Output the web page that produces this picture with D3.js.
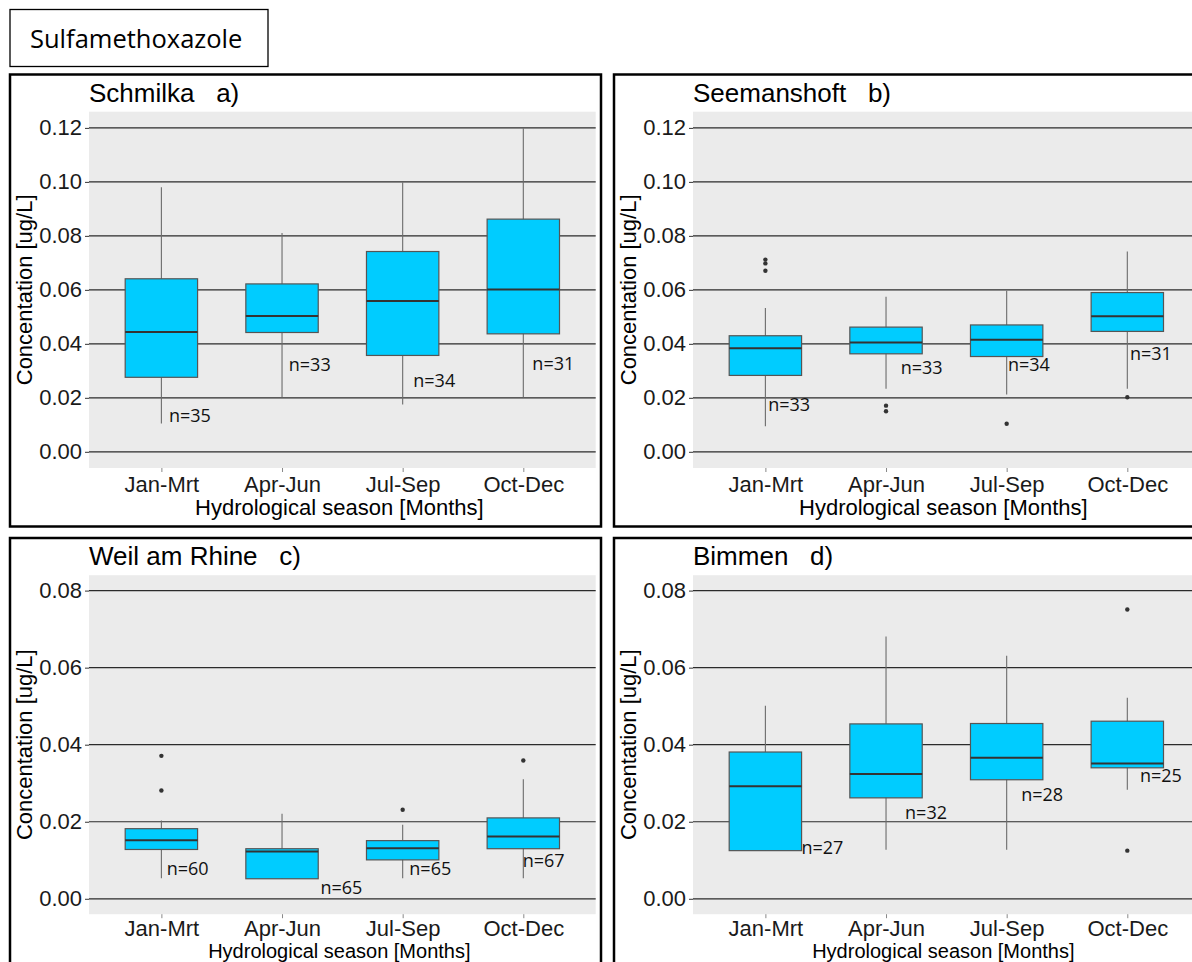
<!DOCTYPE html>
<html lang="en">
<head>
<meta charset="UTF-8">
<title>Sulfamethoxazole</title>
<script src="https://d3js.org/d3.v7.min.js"></script>
<style>
  body { margin: 0; background: #ffffff; }
  svg { display: block; }
  .axis text { font-family: "Liberation Sans", Arial, sans-serif; font-size: 22px; fill: #1a1a1a; }
  .ptitle { font-family: "Liberation Sans", Arial, sans-serif; font-size: 26px; fill: #000; white-space: pre; }
  .atitle { font-family: "Liberation Sans", Arial, sans-serif; font-size: 22px; fill: #000; }
  .nlab { font-family: "Open Sans", sans-serif; font-size: 18px; fill: #111; }
</style>
</head>
<body>
<div id="chart"></div>
<script>
// categories and axis ticks
var seasons = ["Jan-Mrt", "Apr-Jun", "Jul-Sep", "Oct-Dec"];
var ticksTop = [0, 0.02, 0.04, 0.06, 0.08, 0.10, 0.12];
var ticksBottom = [0, 0.02, 0.04, 0.06, 0.08];

// a) Schmilka
var schmilkaLow  = [0.0105, 0.0202, 0.0175, 0.0202];
var schmilkaQ1   = [0.0276, 0.0442, 0.0357, 0.0437];
var schmilkaMed  = [0.0444, 0.0503, 0.0559, 0.0601];
var schmilkaQ3   = [0.0641, 0.0622, 0.0742, 0.0862];
var schmilkaHigh = [0.0980, 0.0811, 0.0999, 0.1199];
var schmilkaOut  = [[], [], [], []];
var schmilkaN    = [35, 33, 34, 31];
var schmilkaNY   = [0.0109, 0.0299, 0.0241, 0.0302];
var schmilkaNudge = [0.063, 0.056, 0.088, 0.075];

// b) Seemanshoft
var seemanLow  = [0.0095, 0.0234, 0.0212, 0.0234];
var seemanQ1   = [0.0283, 0.0363, 0.0353, 0.0446];
var seemanMed  = [0.0384, 0.0405, 0.0415, 0.0502];
var seemanQ3   = [0.0430, 0.0462, 0.0470, 0.0590];
var seemanHigh = [0.0533, 0.0574, 0.0597, 0.0742];
var seemanOut  = [[0.0671, 0.0698, 0.0712], [0.0150, 0.0171], [0.0104], [0.0202]];
var seemanN    = [33, 33, 34, 31];
var seemanNY   = [0.0150, 0.0289, 0.0299, 0.0339];
var seemanNudge = [0.023, 0.121, 0.011, 0.022];

// c) Weil am Rhine
var weilLow  = [0.0053, 0.0052, 0.0053, 0.0053];
var weilQ1   = [0.0128, 0.0052, 0.0101, 0.0130];
var weilMed  = [0.0152, 0.0123, 0.0131, 0.0162];
var weilQ3   = [0.0182, 0.0130, 0.0151, 0.0210];
var weilHigh = [0.0203, 0.0221, 0.0192, 0.0310];
var weilOut  = [[0.0281, 0.0371], [], [0.0231], [0.0359]];
var weilN    = [60, 65, 65, 67];
var weilNY   = [0.0063, 0.0013, 0.0063, 0.0082];
var weilNudge = [0.044, 0.319, 0.055, -0.005];

// d) Bimmen
var bimmenLow  = [0.0125, 0.0127, 0.0127, 0.0283];
var bimmenQ1   = [0.0125, 0.0262, 0.0309, 0.0340];
var bimmenMed  = [0.0292, 0.0324, 0.0366, 0.0351];
var bimmenQ3   = [0.0381, 0.0454, 0.0455, 0.0461];
var bimmenHigh = [0.0501, 0.0681, 0.0631, 0.0522];
var bimmenOut  = [[], [], [], [0.0125, 0.0751]];
var bimmenN    = [27, 32, 28, 25];
var bimmenNY   = [0.0115, 0.0206, 0.0253, 0.0303];
var bimmenNudge = [0.299, 0.158, 0.120, 0.105];

var width = 1192, height = 962;
var grayW = 506.7;

var svg = d3.select("#chart").append("svg")
    .attr("width", width)
    .attr("height", height)
    .style("background-color", "white");

// main title box
svg.append("rect")
    .attr("x", 10).attr("y", 9.5).attr("width", 258).attr("height", 57)
    .attr("fill", "none").attr("stroke", "#000").attr("stroke-width", 1.3);
svg.append("text")
    .attr("x", 30).attr("y", 48)
    .style("font-family", "'Open Sans', sans-serif")
    .style("font-size", "25.5px")
    .text("Sulfamethoxazole");

function boxes(low, q1, med, q3, high, out, n, ny, nudge) {
    return seasons.map(function(s, i) {
        return {season: s, low: low[i], q1: q1[i], med: med[i], q3: q3[i], high: high[i],
                out: out[i], n: n[i], ny: ny[i], nudge: nudge[i]};
    });
}

// bottom row is cropped by the page edge, so its x labels sit a bit tighter
var panels = [
    {name: "Schmilka   a)", fx: 10, fy: 74.5, gh: 356.3, top: 0.12, ticks: ticksTop, xt: 47, xfs: 22, tp: 4,
     data: boxes(schmilkaLow, schmilkaQ1, schmilkaMed, schmilkaQ3, schmilkaHigh, schmilkaOut, schmilkaN, schmilkaNY, schmilkaNudge)},
    {name: "Seemanshoft   b)", fx: 614, fy: 74.5, gh: 356.3, top: 0.12, ticks: ticksTop, xt: 47, xfs: 22, tp: 4,
     data: boxes(seemanLow, seemanQ1, seemanMed, seemanQ3, seemanHigh, seemanOut, seemanN, seemanNY, seemanNudge)},
    {name: "Weil am Rhine   c)", fx: 10, fy: 538, gh: 339, top: 0.08, ticks: ticksBottom, xt: 44, xfs: 20, tp: 2,
     data: boxes(weilLow, weilQ1, weilMed, weilQ3, weilHigh, weilOut, weilN, weilNY, weilNudge)},
    {name: "Bimmen   d)", fx: 614, fy: 538, gh: 339, top: 0.08, ticks: ticksBottom, xt: 44, xfs: 20, tp: 2,
     data: boxes(bimmenLow, bimmenQ1, bimmenMed, bimmenQ3, bimmenHigh, bimmenOut, bimmenN, bimmenNY, bimmenNudge)}
];

panels.forEach(function(p) {
    // outer frame
    svg.append("rect")
        .attr("x", p.fx).attr("y", p.fy).attr("width", 591).attr("height", 452)
        .attr("fill", "none").attr("stroke", "#000").attr("stroke-width", 2.5);

    var gx = p.fx + 79, gy = p.fy + 37.2;
    var g = svg.append("g").attr("transform", "translate(" + gx + "," + gy + ")");

    var pad = p.top * 0.05;
    var y = d3.scaleLinear().domain([-pad, p.top + pad]).range([p.gh, 0]);
    var x = d3.scalePoint().domain(seasons).range([0, grayW]).padding(0.6);
    var bw = x.step() * 0.6;

    g.append("rect")
        .attr("width", grayW).attr("height", p.gh)
        .attr("fill", "#ebebeb");

    // gridlines
    g.selectAll(".grid")
        .data(p.ticks)
        .enter()
        .append("line")
            .attr("x1", 0).attr("x2", grayW)
            .attr("y1", function(d) { return y(d); })
            .attr("y2", function(d) { return y(d); })
            .attr("stroke", "#2b2b2b").attr("stroke-width", 1.2);

    // y axis
    var ya = g.append("g").attr("class", "axis")
        .call(d3.axisLeft(y).tickValues(p.ticks).tickFormat(d3.format(".2f")).tickSize(4).tickPadding(3));
    ya.select(".domain").remove();
    ya.selectAll("line").attr("stroke", "#333");

    // x axis
    var xa = g.append("g").attr("class", "axis")
        .attr("transform", "translate(0," + p.gh + ")")
        .call(d3.axisBottom(x).tickSize(4).tickPadding(p.tp));
    xa.select(".domain").remove();
    xa.selectAll("line").attr("stroke", "#888");

    // whiskers
    g.selectAll(".whisker")
        .data(p.data)
        .enter()
        .append("line")
            .attr("x1", function(d) { return x(d.season); })
            .attr("x2", function(d) { return x(d.season); })
            .attr("y1", function(d) { return y(d.low); })
            .attr("y2", function(d) { return y(d.high); })
            .attr("stroke", "#6b6b6b").attr("stroke-width", 1.1);

    // boxes
    g.selectAll(".box")
        .data(p.data)
        .enter()
        .append("rect")
            .attr("x", function(d) { return x(d.season) - bw / 2; })
            .attr("y", function(d) { return y(d.q3); })
            .attr("width", bw)
            .attr("height", function(d) { return y(d.q1) - y(d.q3); })
            .attr("fill", "#00ccff")
            .attr("stroke", "#555").attr("stroke-width", 1.2);

    // medians
    g.selectAll(".median")
        .data(p.data)
        .enter()
        .append("line")
            .attr("x1", function(d) { return x(d.season) - bw / 2; })
            .attr("x2", function(d) { return x(d.season) + bw / 2; })
            .attr("y1", function(d) { return y(d.med); })
            .attr("y2", function(d) { return y(d.med); })
            .attr("stroke", "#333").attr("stroke-width", 2);

    // outliers
    var outs = [];
    p.data.forEach(function(d) { d.out.forEach(function(v) { outs.push({season: d.season, v: v}); }); });
    g.selectAll(".out")
        .data(outs)
        .enter()
        .append("circle")
            .attr("cx", function(d) { return x(d.season); })
            .attr("cy", function(d) { return y(d.v); })
            .attr("r", 2.2)
            .attr("fill", "#333");

    // n labels
    g.selectAll(".nlab")
        .data(p.data)
        .enter()
        .append("text")
            .attr("class", "nlab")
            .attr("x", function(d) { return x(d.season) + d.nudge * x.step(); })
            .attr("y", function(d) { return y(d.ny); })
            .text(function(d) { return "n=" + d.n; });

    // titles
    g.append("text")
        .attr("class", "ptitle")
        .attr("x", 0).attr("y", -10)
        .text(p.name);

    g.append("text")
        .attr("class", "atitle")
        .attr("transform", "translate(" + (-57) + "," + (p.gh / 2) + ") rotate(-90)")
        .style("text-anchor", "middle")
        .text("Concentation [ug/L]");

    g.append("text")
        .attr("class", "atitle")
        .attr("x", grayW / 2 - 3).attr("y", p.gh + p.xt)
        .style("text-anchor", "middle")
        .style("font-size", p.xfs + "px")
        .text("Hydrological season [Months]");
});
</script>
</body>
</html>
